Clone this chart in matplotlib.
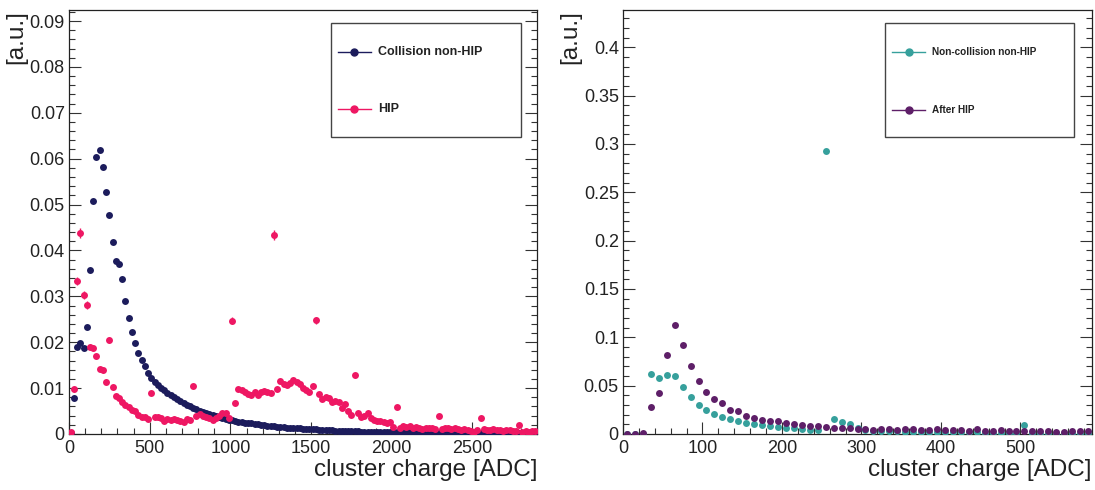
import matplotlib
matplotlib.use("Agg")
import matplotlib.pyplot as plt
from matplotlib.lines import Line2D
from matplotlib.patches import Rectangle
from matplotlib.ticker import MultipleLocator, FuncFormatter

plt.rcParams['font.family'] = ['Liberation Sans', 'DejaVu Sans']

# ---------------- data ----------------
left_x = [10 + 20 * i for i in range(145)]

collision_nonhip = [
    0.0003, 0.0078, 0.0189, 0.0199, 0.0187, 0.0234, 0.0357, 0.0508, 0.0603, 0.0619,
    0.0582, 0.0527, 0.0477, 0.0419, 0.0377, 0.0370, 0.0338, 0.0290, 0.0252, 0.0222,
    0.0198, 0.0177, 0.0161, 0.0148, 0.0134, 0.0121, 0.0113, 0.0107, 0.0101, 0.0095,
    0.0090, 0.0085, 0.0080, 0.0076, 0.0071, 0.0067, 0.0063, 0.0060, 0.0057, 0.0054,
    0.0051, 0.0048, 0.0046, 0.0043, 0.0041, 0.0039, 0.0037, 0.0035, 0.0033, 0.0031,
    0.0030, 0.0028, 0.0027, 0.0026, 0.0025, 0.0024, 0.0023, 0.0022, 0.0021, 0.0020,
    0.0019, 0.0018, 0.0018, 0.0017, 0.0016, 0.0015, 0.0015, 0.0014, 0.0013, 0.0013,
    0.0012, 0.0012, 0.0011, 0.0011, 0.0010, 0.0010, 0.0010, 0.0009, 0.0009, 0.0008,
    0.0008, 0.0008, 0.0007, 0.0007, 0.0007, 0.0007, 0.0006, 0.0006, 0.0006, 0.0006,
    0.0005, 0.0005, 0.0005, 0.0005, 0.0005, 0.0004, 0.0004, 0.0004, 0.0004, 0.0004,
    0.0004, 0.0004, 0.0004, 0.0004, 0.0004, 0.0004, 0.0004, 0.0004, 0.0004, 0.0004,
    0.0004, 0.0003, 0.0003, 0.0003, 0.0003, 0.0003, 0.0003, 0.0003, 0.0003, 0.0003,
    0.0003, 0.0003, 0.0003, 0.0003, 0.0003, 0.0003, 0.0003, 0.0003, 0.0003, 0.0003,
    0.0003, 0.0002, 0.0002, 0.0002, 0.0002, 0.0002, 0.0002, 0.0002, 0.0002, 0.0002,
    0.0002, 0.0002, 0.0002, 0.0002, 0.0002,
]

hip = [
    0.0004, 0.0097, 0.0334, 0.0439, 0.0303, 0.0281, 0.0190, 0.0187, 0.0169, 0.0141,
    0.0139, 0.0114, 0.0205, 0.0102, 0.0083, 0.0078, 0.0070, 0.0063, 0.0058, 0.0052,
    0.0050, 0.0041, 0.0038, 0.0037, 0.0033, 0.0089, 0.0036, 0.0037, 0.0034, 0.0029,
    0.0032, 0.0031, 0.0033, 0.0031, 0.0028, 0.0026, 0.0033, 0.0030, 0.0105, 0.0039,
    0.0044, 0.0040, 0.0038, 0.0034, 0.0031, 0.0034, 0.0040, 0.0045, 0.0045, 0.0034,
    0.0247, 0.0067, 0.0098, 0.0096, 0.0092, 0.0087, 0.0085, 0.0092, 0.0085, 0.0092,
    0.0094, 0.0091, 0.0089, 0.0434, 0.0097, 0.0115, 0.0110, 0.0107, 0.0112, 0.0118,
    0.0114, 0.0108, 0.0100, 0.0096, 0.0092, 0.0105, 0.0248, 0.0087, 0.0076, 0.0081,
    0.0078, 0.0070, 0.0073, 0.0070, 0.0056, 0.0065, 0.0051, 0.0041, 0.0128, 0.0045,
    0.0036, 0.0040, 0.0046, 0.0034, 0.0031, 0.0029, 0.0029, 0.0027, 0.0023, 0.0027,
    0.0016, 0.0059, 0.0012, 0.0017, 0.0015, 0.0017, 0.0014, 0.0016, 0.0012, 0.0010,
    0.0013, 0.0012, 0.0014, 0.0011, 0.0039, 0.0010, 0.0012, 0.0014, 0.0011, 0.0012,
    0.0010, 0.0009, 0.0011, 0.0009, 0.0007, 0.0005, 0.0008, 0.0034, 0.0010, 0.0009,
    0.0008, 0.0010, 0.0009, 0.0008, 0.0007, 0.0009, 0.0008, 0.0006, 0.0007, 0.0020,
    0.0005, 0.0006, 0.0004, 0.0006, 0.0007,
]

hip_err = [
    0.0001, 0.0005, 0.0009, 0.0011, 0.0008, 0.0008, 0.0006, 0.0006, 0.0005, 0.0005,
    0.0005, 0.0004, 0.0007, 0.0004, 0.0003, 0.0003, 0.0003, 0.0003, 0.0003, 0.0003,
    0.0003, 0.0002, 0.0002, 0.0002, 0.0002, 0.0004, 0.0002, 0.0002, 0.0002, 0.0002,
    0.0002, 0.0002, 0.0002, 0.0002, 0.0002, 0.0002, 0.0002, 0.0002, 0.0005, 0.0002,
    0.0002, 0.0002, 0.0002, 0.0002, 0.0002, 0.0002, 0.0002, 0.0002, 0.0002, 0.0002,
    0.0008, 0.0003, 0.0004, 0.0004, 0.0004, 0.0004, 0.0004, 0.0004, 0.0004, 0.0004,
    0.0004, 0.0004, 0.0004, 0.0011, 0.0004, 0.0004, 0.0004, 0.0004, 0.0004, 0.0004,
    0.0004, 0.0004, 0.0004, 0.0004, 0.0004, 0.0004, 0.0008, 0.0004, 0.0003, 0.0003,
    0.0003, 0.0003, 0.0003, 0.0003, 0.0003, 0.0003, 0.0003, 0.0002, 0.0005, 0.0002,
    0.0002, 0.0002, 0.0002, 0.0002, 0.0002, 0.0002, 0.0002, 0.0002, 0.0002, 0.0002,
    0.0002, 0.0003, 0.0002, 0.0002, 0.0002, 0.0002, 0.0002, 0.0002, 0.0002, 0.0002,
    0.0002, 0.0002, 0.0002, 0.0002, 0.0003, 0.0002, 0.0002, 0.0002, 0.0002, 0.0002,
    0.0002, 0.0002, 0.0002, 0.0002, 0.0002, 0.0002, 0.0002, 0.0003, 0.0002, 0.0002,
    0.0002, 0.0002, 0.0002, 0.0002, 0.0002, 0.0002, 0.0002, 0.0002, 0.0002, 0.0002,
    0.0002, 0.0002, 0.0002, 0.0002, 0.0002,
]

right_x = [5 + 10 * i for i in range(59)]

noncollision_nonhip = [
    0.0000, 0.0000, 0.0004, 0.0620, 0.0579, 0.0611, 0.0603, 0.0483, 0.0386, 0.0300,
    0.0248, 0.0207, 0.0179, 0.0155, 0.0138, 0.0117, 0.0100, 0.0093, 0.0083, 0.0075,
    0.0066, 0.0059, 0.0055, 0.0045, 0.0045, 0.2930, 0.0155, 0.0121, 0.0100, 0.0059,
    0.0038, 0.0031, 0.0029, 0.0029, 0.0027, 0.0025, 0.0024, 0.0023, 0.0021, 0.0021,
    0.0019, 0.0019, 0.0017, 0.0017, 0.0016, 0.0015, 0.0015, 0.0014, 0.0014, 0.0013,
    0.0093, 0.0012, 0.0012, 0.0011, 0.0011, 0.0010, 0.0010, 0.0010, 0.0010,
]

after_hip = [
    0.0000, 0.0003, 0.0008, 0.0282, 0.0421, 0.0817, 0.1126, 0.0921, 0.0703, 0.0549,
    0.0438, 0.0362, 0.0317, 0.0250, 0.0241, 0.0189, 0.0162, 0.0145, 0.0138, 0.0135,
    0.0114, 0.0099, 0.0096, 0.0086, 0.0079, 0.0075, 0.0061, 0.0059, 0.0062, 0.0055,
    0.0049, 0.0045, 0.0049, 0.0055, 0.0045, 0.0049, 0.0049, 0.0045, 0.0038, 0.0049,
    0.0038, 0.0038, 0.0038, 0.0031, 0.0049, 0.0031, 0.0031, 0.0038, 0.0031, 0.0031,
    0.0031, 0.0031, 0.0031, 0.0031, 0.0024, 0.0024, 0.0028, 0.0031, 0.0031,
]

left_labels = ["Collision non-HIP", "HIP"]
right_labels = ["Non-collision non-HIP", "After HIP"]
xlabel = "cluster charge [ADC]"
ylabel = "[a.u.]"

c_navy = "#1c1c5c"
c_pink = "#ee1763"
c_teal = "#36a09c"
c_purple = "#5e1f68"

# ---------------- figure ----------------
W, H = 1095, 490
fig = plt.figure(figsize=(W / 100, H / 100), dpi=100)

axL = fig.add_axes([69 / W, 1 - 434 / H, 468 / W, 424 / H])
axR = fig.add_axes([623 / W, 1 - 434 / H, 469 / W, 424 / H])

ms = 5.0


def fmt(v, pos):
    if abs(v) < 1e-12:
        return "0"
    return ("%g" % v)


def style(ax, xmax, ymax, xmaj, xmin, ymaj, ymin):
    ax.set_xlim(0, xmax)
    ax.set_ylim(0, ymax)
    ax.xaxis.set_major_locator(MultipleLocator(xmaj))
    ax.xaxis.set_minor_locator(MultipleLocator(xmin))
    ax.yaxis.set_major_locator(MultipleLocator(ymaj))
    ax.yaxis.set_minor_locator(MultipleLocator(ymin))
    ax.yaxis.set_major_formatter(FuncFormatter(fmt))
    ax.xaxis.set_major_formatter(FuncFormatter(fmt))
    ax.tick_params(which="both", direction="in", left=True, right=True,
                   top=False, bottom=True, width=0.8, colors="#333333",
                   labelcolor="#222222")
    ax.tick_params(which="major", length=8.5, labelsize=13)
    ax.tick_params(axis="y", which="major", pad=3)
    ax.tick_params(axis="x", which="major", pad=4)
    ax.tick_params(which="minor", length=4.5)
    for s in ax.spines.values():
        s.set_linewidth(0.9)
        s.set_color("#222222")
    ax.set_xlabel(xlabel, fontsize=17.5, loc="right", labelpad=2, color="#222222")
    ax.set_ylabel(ylabel, fontsize=17.5, loc="top", labelpad=2, color="#222222")


def legend_box(ax, x0, x1, y0, y1, rows, entries):
    ax.add_patch(Rectangle((x0, y0), x1 - x0, y1 - y0, transform=ax.transAxes,
                           fill=False, edgecolor="#444444", linewidth=1.0,
                           clip_on=False, zorder=10))
    for (ly, (col, lab, fs, lx0, lx1, tx)) in zip(rows, entries):
        ax.add_line(Line2D([lx0, lx1], [ly, ly], transform=ax.transAxes,
                           color=col, linewidth=1.0, clip_on=False, zorder=11))
        ax.add_line(Line2D([(lx0 + lx1) / 2], [ly], transform=ax.transAxes,
                           marker="o", markersize=ms, color=col, linestyle="none",
                           clip_on=False, zorder=12))
        ax.text(tx, ly, lab, transform=ax.transAxes, fontsize=fs,
                fontweight="bold", va="center", ha="left", color="#222222",
                zorder=12)


def axfx(px, left, width):
    return (px - left) / width


def axfy(py):
    return (434 - py) / 424


# left panel
axL.plot(left_x, collision_nonhip, "o", color=c_navy, markersize=ms,
         markeredgewidth=0, zorder=3)
axL.errorbar(left_x, hip, yerr=hip_err, fmt="o", color=c_pink, markersize=ms,
             markeredgewidth=0, elinewidth=1.0, capsize=0, zorder=4)
style(axL, 2900, 0.0924, 500, 100, 0.01, 0.002)

legend_box(axL, axfx(331, 69, 468), axfx(521, 69, 468), axfy(137), axfy(23),
           [axfy(52.5), axfy(109)],
           [(c_navy, left_labels[0], 9.0, axfx(337.5, 69, 468), axfx(371, 69, 468), axfx(378, 69, 468)),
            (c_pink, left_labels[1], 9.0, axfx(337.5, 69, 468), axfx(371, 69, 468), axfx(378, 69, 468))])

# right panel
axR.plot(right_x, noncollision_nonhip, "o", color=c_teal, markersize=ms,
         markeredgewidth=0, zorder=3)
axR.plot(right_x, after_hip, "o", color=c_purple, markersize=ms,
         markeredgewidth=0, zorder=4)
style(axR, 590, 0.4385, 100, 20, 0.05, 0.01)

legend_box(axR, axfx(885, 623, 469), axfx(1074, 623, 469), axfy(137), axfy(23),
           [axfy(52.5), axfy(110)],
           [(c_teal, right_labels[0], 7.2, axfx(892, 623, 469), axfx(925, 623, 469), axfx(931.5, 623, 469)),
            (c_purple, right_labels[1], 7.2, axfx(892, 623, 469), axfx(925, 623, 469), axfx(931.5, 623, 469))])

fig.savefig("out.png", dpi=100)
